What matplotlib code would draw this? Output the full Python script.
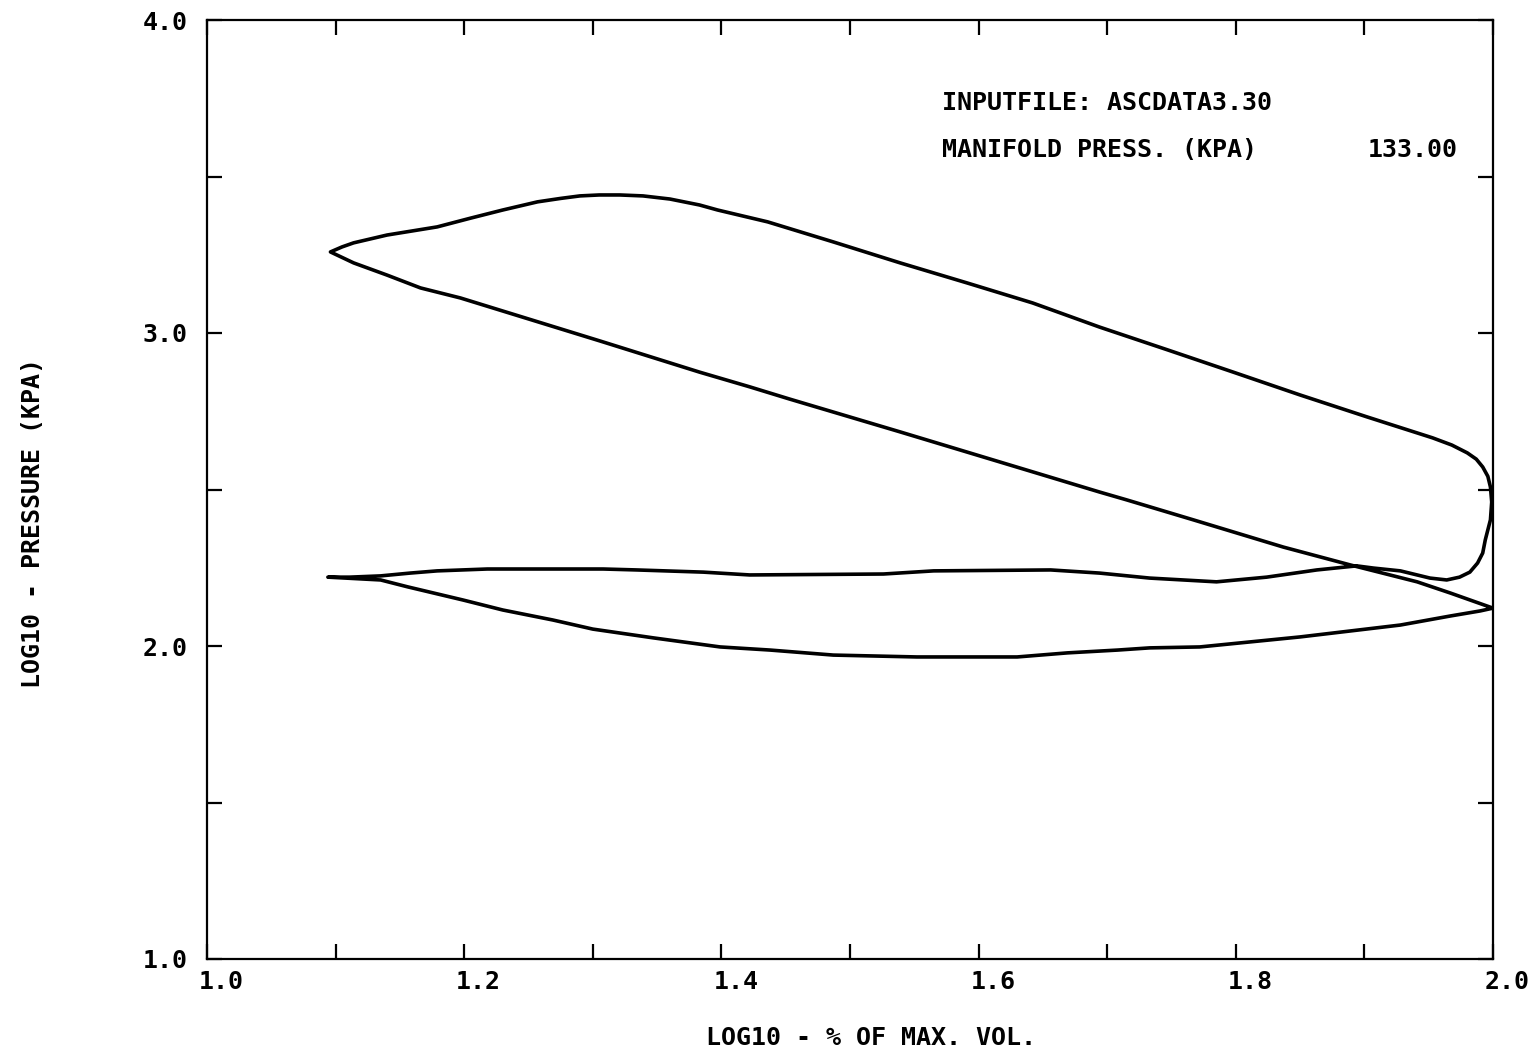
import numpy as np
import matplotlib.pyplot as plt
from matplotlib.transforms import ScaledTranslation

# log10 volume / log10 pressure for one engine cycle
comp_x = [2.000, 1.967, 1.941, 1.889, 1.837, 1.767, 1.715, 1.694, 1.539, 1.453,
          1.422, 1.383, 1.306, 1.197, 1.166, 1.140, 1.114, 1.096]
comp_y = [2.121, 2.169, 2.205, 2.259, 2.316, 2.403, 2.467, 2.492, 2.684, 2.789,
          2.828, 2.875, 2.974, 3.112, 3.144, 3.185, 3.224, 3.259]

expa_x = [1.096, 1.105, 1.114, 1.140, 1.179, 1.205, 1.230, 1.257, 1.275, 1.290,
          1.305, 1.321, 1.339, 1.360, 1.383, 1.397, 1.436, 1.487, 1.539, 1.591,
          1.642, 1.694, 1.747, 1.798, 1.850, 1.902, 1.953, 1.968, 1.980, 1.987,
          1.992, 1.996, 1.998, 1.999, 1.998, 1.996, 1.994, 1.992, 1.988, 1.982,
          1.974, 1.964, 1.951, 1.928, 1.907, 1.894]
expa_y = [3.259, 3.275, 3.288, 3.313, 3.339, 3.367, 3.393, 3.419, 3.430, 3.438,
          3.441, 3.441, 3.438, 3.428, 3.409, 3.393, 3.355, 3.291, 3.224, 3.160,
          3.096, 3.019, 2.946, 2.875, 2.802, 2.732, 2.665, 2.642, 2.617, 2.597,
          2.572, 2.542, 2.508, 2.460, 2.403, 2.371, 2.339, 2.297, 2.265, 2.236,
          2.220, 2.211, 2.217, 2.240, 2.249, 2.256]

exh_x = [1.863, 1.824, 1.785, 1.733, 1.694, 1.656, 1.565, 1.526, 1.422, 1.386,
         1.334, 1.308, 1.218, 1.179, 1.158, 1.135, 1.111, 1.094]
exh_y = [2.243, 2.220, 2.205, 2.217, 2.233, 2.243, 2.240, 2.230, 2.227, 2.236,
         2.243, 2.246, 2.246, 2.240, 2.233, 2.224, 2.220, 2.220]

intk_x = [1.094, 1.135, 1.156, 1.199, 1.230, 1.269, 1.300, 1.347, 1.399, 1.438,
          1.487, 1.552, 1.630, 1.669, 1.708, 1.733, 1.772, 1.850, 1.928, 1.967,
          1.990, 2.000]
intk_y = [2.220, 2.211, 2.189, 2.147, 2.115, 2.083, 2.054, 2.026, 1.997, 1.987,
          1.971, 1.965, 1.965, 1.978, 1.987, 1.994, 1.997, 2.029, 2.067, 2.096,
          2.112, 2.121]

x_ticks = np.round(np.arange(1.0, 2.01, 0.1), 1)
y_ticks = np.arange(1.0, 4.01, 0.5)
x_labels = ['1.0', '', '1.2', '', '1.4', '', '1.6', '', '1.8', '', '2.0']
y_labels = ['1.0', '', '2.0', '', '3.0', '', '4.0']

inputfile = 'INPUTFILE: ASCDATA3.30'
manifold = 'MANIFOLD PRESS. (KPA)'
manifold_val = '133.00'

font = dict(family='DejaVu Sans Mono', weight='bold', size=18)

fig = plt.figure(figsize=(15.31, 10.53), dpi=100)
ax = fig.add_axes([207/1531, 1 - 959/1053, (1493 - 207)/1531, (959 - 20)/1053])

cx = np.concatenate([comp_x, expa_x, exh_x, intk_x])
cy = np.concatenate([comp_y, expa_y, exh_y, intk_y])
ax.plot(cx, cy, color='black', lw=2.6, solid_joinstyle='round')

ax.set_xlim(1.0, 2.0)
ax.set_ylim(1.0, 4.0)
for s in ax.spines.values():
    s.set_linewidth(1.6)

ax.set_xticks(x_ticks)
ax.set_xticklabels(x_labels, fontdict=font, ha='left')
ax.set_yticks(y_ticks)
ax.set_yticklabels(y_labels, fontdict=font)
ax.tick_params(direction='in', length=11, width=1.6, top=True, right=True)
ax.tick_params(axis='x', pad=8)
ax.tick_params(axis='y', pad=14)

# shift x labels a bit left of their ticks
shift = ScaledTranslation(-8/100, 0, fig.dpi_scale_trans)
for lab in ax.get_xticklabels():
    lab.set_transform(lab.get_transform() + shift)

fig.text(942/1531, 1 - 103/1053, inputfile, va='center', ha='left', **font)
fig.text(942/1531, 1 - 150/1053, manifold, va='center', ha='left', **font)
fig.text(1458/1531, 1 - 150/1053, manifold_val, va='center', ha='right', **font)

fig.text(871/1531, 1 - 1038/1053, 'LOG10 - % OF MAX. VOL.', va='center', ha='center', **font)
fig.text(33/1531, 1 - 523/1053, 'LOG10 - PRESSURE (KPA)', va='center', ha='center',
         rotation=90, **font)

plt.savefig('out.png', dpi=100, facecolor='white')
